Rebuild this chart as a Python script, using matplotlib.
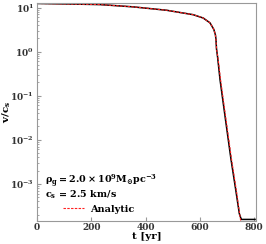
import numpy as np
import matplotlib.pyplot as plt

plt.rcParams['font.family'] = 'DejaVu Serif'
plt.rcParams['font.weight'] = 'bold'
plt.rcParams['mathtext.fontset'] = 'dejavuserif'
plt.rcParams['mathtext.default'] = 'bf'

# simulation (black)
t_sim = [0, 100, 232, 353, 477, 575, 612, 637, 651, 657, 659, 661, 665, 674, 693, 714, 733, 745, 750, 753, 770, 790, 803]
v_sim = [12.4, 12.1, 11.7, 10.4, 8.7, 6.9, 5.8, 4.5, 3.2, 2.4, 1.9, 1.15, 0.75, 0.23, 0.032, 0.0037, 6.5e-4, 2.1e-4, 1.7e-4, 1.55e-4, 1.55e-4, 1.55e-4, 1.55e-4]

# analytic (red dashed)
t_ana = [0, 100, 232, 353, 477, 575, 612, 637, 651, 657, 659, 661, 667, 676, 695, 716, 735, 747, 752]
v_ana = [12.4, 12.1, 11.7, 10.4, 8.7, 6.9, 5.8, 4.5, 3.2, 2.4, 1.9, 1.15, 0.68, 0.23, 0.032, 0.0037, 6.5e-4, 1.9e-4, 1.2e-4]

fig = plt.figure(figsize=(2.66, 2.44), dpi=100)
ax = fig.add_axes([0.139, 0.0955, 0.823, 0.894])

ax.plot(t_sim, v_sim, color='black', linewidth=1.1)
ax.plot(t_ana, v_ana, color='#ff2020', linestyle='--', linewidth=0.8, dashes=(2.2, 1.2), label='Analytic')

ax.set_yscale('log')
ax.set_xlim(0, 806)
ax.set_ylim(1.45e-4, 13)
ax.set_xticks([0, 200, 400, 600, 800])

for s in ax.spines.values():
    s.set_color('#999999')
ax.tick_params(which='both', direction='in', colors='#999999', labelcolor='#333333', labelsize=6.5)
ax.tick_params(which='major', length=3, pad=2)
ax.tick_params(which='minor', length=1.5)

ax.set_xlabel('t [yr]', fontsize=7.5, fontweight='bold', labelpad=0)
ax.set_ylabel(r'v/c$_s$', fontsize=7.5, fontweight='bold')
ax.yaxis.set_label_coords(-0.11, 0.5)

ax.text(0.037, 0.185, r'$\rho_g = 2.0 \times 10^9 M_{\odot} pc^{-3}$', transform=ax.transAxes,
        fontsize=6.9, va='center')
ax.text(0.037, 0.118, r'c$_s$ = 2.5 km/s', transform=ax.transAxes, fontsize=6.9, va='center')
ax.legend(loc=(0.1, 0.015), frameon=False, fontsize=7, handlelength=2.2, handletextpad=0.6)

fig.savefig('out.png', dpi=100)
